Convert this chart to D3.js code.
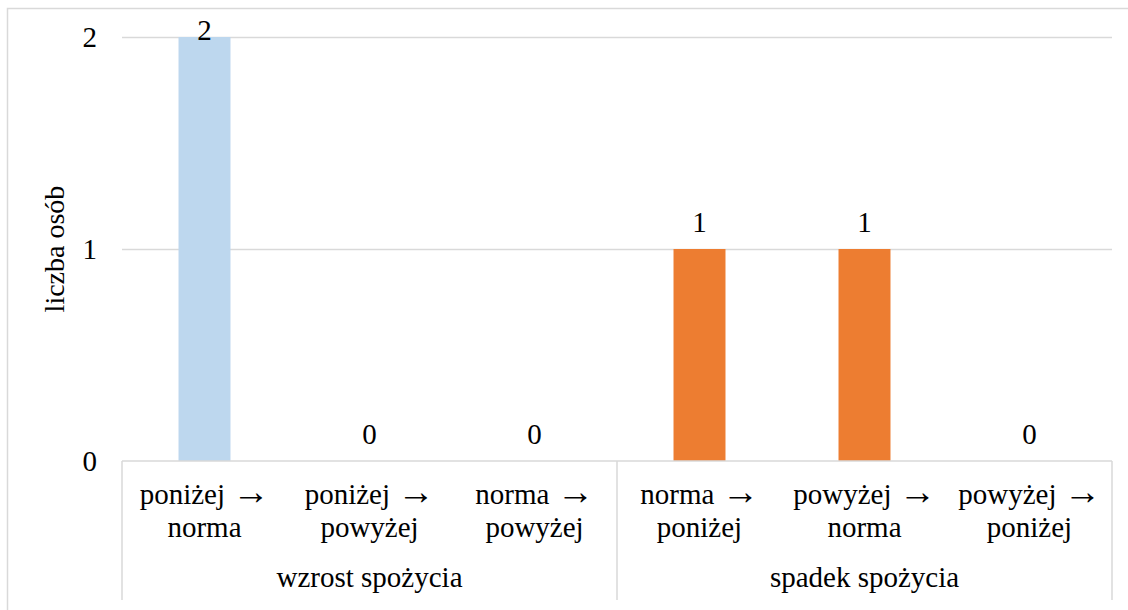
<!DOCTYPE html>
<html>
<head>
<meta charset="utf-8">
<script src="https://cdn.jsdelivr.net/npm/d3@7"></script>
<style>
  html, body { margin: 0; padding: 0; background: #fff; }
  svg { display: block; }
</style>
</head>
<body>
<svg id="chart" width="1128" height="610"></svg>
<script>
// Category labels: transition "from → to", split over two lines
const catFrom = ["poniżej", "poniżej", "norma", "norma", "powyżej", "powyżej"];
const catTo = ["norma", "powyżej", "powyżej", "poniżej", "norma", "poniżej"];
const groups = ["wzrost spożycia", "spadek spożycia"];
const groupOf = [0, 0, 0, 1, 1, 1];
const values = [2, 0, 0, 1, 1, 0];
const groupColors = ["#BDD7EE", "#ED7D31"];
const yTicks = [0, 1, 2];
const yTitle = "liczba osób";

const FONT = '"Liberation Serif"';
const FS = 29;
const W = 1128, H = 610;
const plot = { left: 122, right: 1112, top: 37, bottom: 461 };
const gridColor = "#d9d9d9";

const svg = d3.select("#chart");

function serif(sel, size) {
  return sel.style("font-family", FONT).attr("font-size", size).attr("fill", "#000");
}

// chart frame
svg.append("rect")
  .attr("x", 7.5).attr("y", 8.5)
  .attr("width", W + 10).attr("height", H + 10)
  .attr("fill", "none").attr("stroke", gridColor).attr("stroke-width", 1.5);

const x = d3.scaleBand()
  .domain(d3.range(values.length))
  .range([plot.left, plot.right])
  .paddingInner(0.685).paddingOuter(0.3425);

const y = d3.scaleLinear().domain([0, 2]).range([plot.bottom, plot.top]);

// horizontal gridlines
svg.append("g").selectAll("line")
  .data(yTicks.filter(d => d > 0))
  .join("line")
  .attr("x1", plot.left).attr("x2", plot.right)
  .attr("y1", d => Math.round(y(d)) + 0.5).attr("y2", d => Math.round(y(d)) + 0.5)
  .attr("stroke", gridColor).attr("stroke-width", 1.5);

// y axis tick labels
const yAxis = d3.axisLeft(y).tickValues(yTicks).tickSize(0).tickPadding(25).tickFormat(d3.format("d"));
const gy = svg.append("g").attr("transform", `translate(${plot.left},0)`).call(yAxis);
gy.attr("font-family", null).attr("font-size", null);
gy.select(".domain").remove();
serif(gy.selectAll("text"), FS).attr("dy", "0.34em");

// y axis title
serif(svg.append("text"), 28)
  .attr("transform", `translate(64,${(plot.top + plot.bottom) / 2}) rotate(-90)`)
  .attr("text-anchor", "middle")
  .text(yTitle);

// bars
svg.append("g").selectAll("rect")
  .data(values)
  .join("rect")
  .attr("x", (d, i) => x(i))
  .attr("width", x.bandwidth())
  .attr("y", d => y(d))
  .attr("height", d => y(0) - y(d))
  .attr("fill", (d, i) => groupColors[groupOf[i]]);

// value labels (kept inside the chart frame)
serif(svg.append("g").selectAll("text")
  .data(values)
  .join("text"), FS)
  .attr("x", (d, i) => x(i) + x.bandwidth() / 2)
  .attr("y", d => Math.max(y(d) - 17, plot.top + 3))
  .attr("text-anchor", "middle")
  .text(d => d);

// category axis: baseline and group separators
const axisG = svg.append("g");
axisG.append("line")
  .attr("x1", plot.left).attr("x2", plot.right)
  .attr("y1", plot.bottom).attr("y2", plot.bottom)
  .attr("stroke", gridColor).attr("stroke-width", 1.5);
const sepX = [plot.left, x(3) - x.step() * x.paddingInner() / 2, plot.right];
axisG.selectAll("line.sep")
  .data(sepX)
  .join("line")
  .attr("class", "sep")
  .attr("x1", d => Math.round(d)).attr("x2", d => Math.round(d))
  .attr("y1", plot.bottom).attr("y2", 600)
  .attr("stroke", gridColor).attr("stroke-width", 1.5);

// category labels: first line "from →", second line "to"
const cx = i => x(i) + x.bandwidth() / 2;
const line1 = serif(axisG.selectAll("text.from")
  .data(catFrom)
  .join("text"), FS)
  .attr("class", "from")
  .attr("text-anchor", "middle")
  .attr("x", (d, i) => cx(i))
  .attr("y", 504);
line1.append("tspan").text(d => d + " ");
line1.append("tspan").attr("font-size", 37).text("→");

serif(axisG.selectAll("text.to")
  .data(catTo)
  .join("text"), FS)
  .attr("class", "to")
  .attr("text-anchor", "middle")
  .attr("x", (d, i) => cx(i))
  .attr("y", 537)
  .text(d => d);

// group labels
serif(axisG.selectAll("text.grp")
  .data(groups)
  .join("text"), FS)
  .attr("class", "grp")
  .attr("text-anchor", "middle")
  .attr("x", (d, g) => (sepX[g] + sepX[g + 1]) / 2)
  .attr("y", 587)
  .text(d => d);
</script>
</body>
</html>
